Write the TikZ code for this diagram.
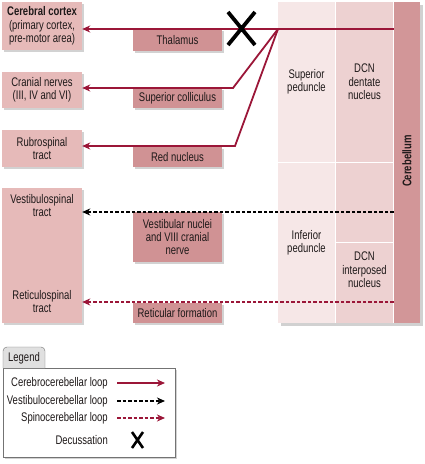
\documentclass[tikz,border=0pt]{standalone}
\usepackage{fontspec}
\setmainfont{Liberation Sans}[FakeStretch=0.76]
\usetikzlibrary{arrows.meta,shadows}
\definecolor{leftc}{RGB}{230,186,185}
\definecolor{midc}{RGB}{208,146,148}
\definecolor{pedc}{RGB}{246,231,231}
\definecolor{dcnc}{RGB}{237,209,209}
\definecolor{cerc}{RGB}{210,150,152}
\definecolor{loopred}{RGB}{155,22,56}
\definecolor{txt}{RGB}{30,25,25}
\begin{document}
\begin{tikzpicture}[x=1pt,y=-1pt,
  font=\fontsize{12.5}{13.4}\selectfont,
  shade/.style={drop shadow={shadow xshift=2pt,shadow yshift=-2pt,fill=black!35,opacity=0.5}},
  leftbox/.style={fill=leftc,shade,minimum width=80pt,align=center,text=txt,inner sep=1pt},
  midbox/.style={fill=midc,shade,minimum width=89pt,align=center,text=txt,inner sep=1pt},
  colbox/.style={minimum width=57pt,inner sep=0pt,align=center,text=txt},
  lbl/.style={align=center,text=txt,inner sep=0pt},
  cc/.style={loopred,line width=1.8pt,-{Stealth[length=8pt,width=7pt,inset=2.5pt]}},
  vl/.style={black,line width=1.6pt,dash pattern=on 3.5pt off 2pt,-{Stealth[length=8pt,width=7pt,inset=2.5pt]}},
  sl/.style={loopred,line width=1.6pt,dash pattern=on 3.5pt off 2pt,-{Stealth[length=8pt,width=7pt,inset=2.5pt]}},
  xmark/.style={black,line width=3.8pt},
  legtxt/.style={anchor=east,text=txt,inner sep=0pt}
]
\useasboundingbox (0,0) rectangle (425,464);

% left boxes
\node[leftbox,minimum height=48pt] (cortex) at (42,26) {\textbf{Cerebral cortex}\\(primary cortex,\\pre-motor area)};
\node[leftbox,minimum height=36pt] (cranial) at (42,90) {Cranial nerves\\(III, IV and VI)};
\node[leftbox,minimum height=37pt] (rubro) at (42,148.5) {Rubrospinal\\tract};
\node[leftbox,minimum height=135pt] (spinal) at (42,255.5) {};
\node[lbl] (vstext) at (42,205.5) {Vestibulospinal\\tract};
\node[lbl] (rstext) at (42,301.5) {Reticulospinal\\tract};

% middle boxes
\node[midbox,minimum height=22pt] (thal) at (177.5,40) {Thalamus};
\node[midbox,minimum height=20pt] (supcol) at (177.5,98) {Superior colliculus};
\node[midbox,minimum height=20pt] (rednuc) at (177.5,157) {Red nucleus};
\node[midbox,minimum height=50pt] (vestnuc) at (177.5,237) {Vestibular nuclei\\and VIII cranial\\nerve};
\node[midbox,minimum height=20pt] (retform) at (177.5,313) {Reticular formation};

% right panel
\fill[black!18] (281,5) rectangle (423,326);
\fill[white] (278,2) rectangle (420,323);
\node[colbox,fill=pedc,minimum height=159.5pt] (supped) at (306.5,81.75) {Superior\\peduncle};
\node[colbox,fill=pedc,minimum height=160.5pt] (infped) at (306.5,242.75) {Inferior\\peduncle};
\node[colbox,fill=dcnc,minimum height=159.5pt] (dentate) at (364.5,81.75) {DCN\\dentate\\nucleus};
\node[colbox,fill=dcnc,minimum height=79pt] (dcnmid) at (364.5,202) {};
\node[colbox,fill=dcnc,minimum height=80.5pt] (interp) at (364.5,282.75) {};
\node[lbl] (interptext) at (364.5,270) {DCN\\interposed\\nucleus};
\node[fill=cerc,minimum width=26pt,minimum height=321pt,inner sep=0pt] (cereb) at (407,162.5) {};
\node[rotate=90,font=\fontsize{12.5}{13}\selectfont\bfseries,text=txt,inner sep=0pt] (cerebtext) at (407,161) {Cerebellum};

% connectors
\coordinate (hub) at (278,29);
\coordinate (bendA) at (233,88);
\coordinate (bendB) at (235,146);
\coordinate (vsrc) at (393,212);
\coordinate (rsrc) at (393,302);
\draw[cc] (cereb.west |- hub) -- (cortex.east |- hub);
\draw[cc] (hub) -- (bendA) -- (cranial.east |- bendA);
\draw[cc] (hub) -- (bendB) -- (rubro.east |- bendB);
\draw[vl] (cereb.west |- vsrc) -- (spinal.east |- vsrc);
\draw[sl] (cereb.west |- rsrc) -- (spinal.east |- rsrc);

% decussation
\draw[xmark] (228,12) -- (255,45) (255,12) -- (228,45);

% legend
\node[draw=black!55,fill=white,shade,minimum width=172pt,minimum height=89pt,inner sep=0pt] (legend) at (89,412.5) {};
\draw[draw=black!55,fill=black!12,rounded corners=4pt] (3,368) -- (3,347) -- (45,347) -- (45,368);
\node[text=txt,inner sep=0pt] (legtitle) at (24,358) {Legend};
\node[legtxt] (lt1) at (108,383) {Cerebrocerebellar loop};
\node[legtxt] (lt2) at (108,401) {Vestibulocerebellar loop};
\node[legtxt] (lt3) at (108,418) {Spinocerebellar loop};
\node[legtxt] (lt4) at (108,440) {Decussation};
\coordinate (l1a) at (117,383); \coordinate (l1b) at (165,383);
\coordinate (l2a) at (117,401); \coordinate (l2b) at (165,401);
\coordinate (l3a) at (117,418); \coordinate (l3b) at (165,418);
\draw[cc] (l1a) -- (l1b);
\draw[vl] (l2a) -- (l2b);
\draw[sl] (l3a) -- (l3b);
\draw[black,line width=2.6pt] (132,432) -- (143,448) (143,432) -- (132,448);
\end{tikzpicture}
\end{document}
